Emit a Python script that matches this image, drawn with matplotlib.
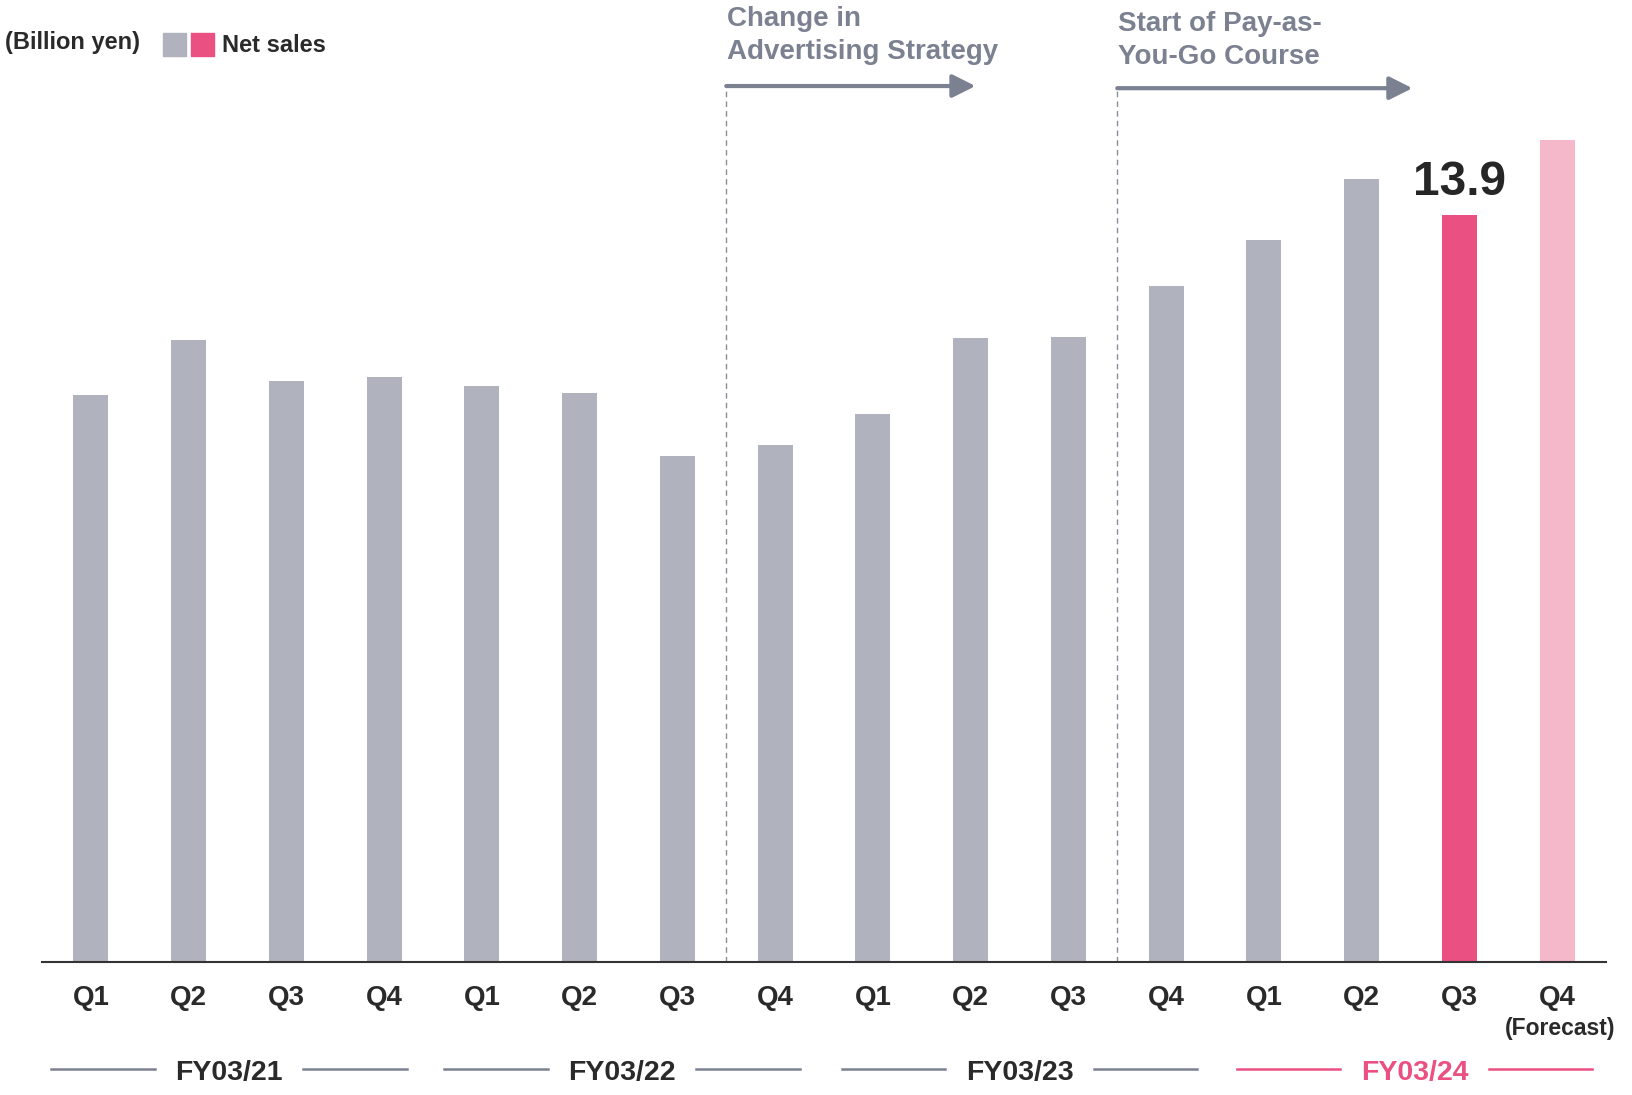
import matplotlib
matplotlib.use("Agg")
import matplotlib.pyplot as plt
from matplotlib.patches import Rectangle, FancyArrowPatch

plt.rcParams['font.family'] = ['Liberation Sans', 'DejaVu Sans']

quarters = ["Q1", "Q2", "Q3", "Q4"] * 4
net_sales = [10.55, 11.57, 10.82, 10.88, 10.72, 10.59, 9.42, 9.62,
             10.20, 11.61, 11.63, 12.58, 13.44, 14.57, 13.9, 15.30]
fiscal_years = ["FY03/21", "FY03/22", "FY03/23", "FY03/24"]
highlight_value = "13.9"
annotations = ["Change in\nAdvertising Strategy", "Start of Pay-as-\nYou-Go Course"]

GRAY = "#b0b2be"
PINK = "#ea5081"
LIGHT_PINK = "#f5b8cb"
ANN = "#7b8191"
DARK = "#2a2a2a"

colors = [GRAY] * 14 + [PINK, LIGHT_PINK]

W, H = 1632, 1095
fig = plt.figure(figsize=(W / 100, H / 100), dpi=100)
base_px = 962
ax = fig.add_axes([42 / W, (H - base_px) / H, (1606 - 42) / W, base_px / H])
x = list(range(len(net_sales)))
ax.bar(x, net_sales, width=0.36, color=colors, zorder=2)
ax.set_xlim(-0.5, 15.5)
ax.set_ylim(0, base_px / 53.74)
for s in ["top", "right", "left"]:
    ax.spines[s].set_visible(False)
ax.spines["bottom"].set_color("#333333")
ax.spines["bottom"].set_linewidth(1.5)
ax.set_xticks([])
ax.set_yticks([])

xt = ax.get_xaxis_transform()
px = 1 / base_px
for i, q in enumerate(quarters):
    ax.text(i, -36 * px, q, transform=xt, ha="center", va="center",
            fontsize=20, fontweight="bold", color=DARK)
ax.text(15.03, -66 * px, "(Forecast)", transform=xt, ha="center", va="center",
        fontsize=16.5, fontweight="bold", color=DARK)

fy_shift = [-0.085, -0.065, 0.0, 0.04]
for g, fy in enumerate(fiscal_years):
    c = g * 4 + 1.5 + fy_shift[g]
    col = PINK if g == 3 else ANN
    tcol = PINK if g == 3 else DARK
    ax.text(c, -111 * px, fy, transform=xt, ha="center", va="center",
            fontsize=20.5, fontweight="bold", color=tcol, clip_on=False)
    for sgn in (-1, 1):
        ax.plot([c + sgn * 0.76, c + sgn * 1.82], [-107 * px] * 2, transform=xt,
                color=col, lw=1.8, clip_on=False)

# 13.9 label
ax.text(14, net_sales[14] + 0.18, highlight_value, ha="center", va="bottom",
        fontsize=34.5, fontweight="bold", color="#262626")

# event markers
events = [(6.5, 9.05, 16.30, 6), (10.5, 13.52, 16.26, 11)]
for (x0, x1, ya, top_px), txt in zip(events, annotations):
    ax.plot([x0, x0], [0, ya], ls=(0, (4, 3)), lw=1.0, color="#8a8e9a", zorder=1)
    arr = FancyArrowPatch((x0, ya), (x1, ya), arrowstyle="-|>,head_length=0.7,head_width=0.35",
                          mutation_scale=20, lw=3, color=ANN, clip_on=False,
                          shrinkA=0, shrinkB=0)
    ax.add_patch(arr)
    ax.text(x0 + 0.01, 1 - top_px * px, txt, transform=xt,
            ha="left", va="top", fontsize=20, fontweight="bold", color=ANN,
            linespacing=1.33, clip_on=False)

# legend
fig.text(5 / W, 1 - 43 / H, "(Billion yen)", ha="left", va="center",
         fontsize=17, fontweight="bold", color=DARK)
fig.patches.append(Rectangle((163 / W, 1 - 56 / H), 23 / W, 23 / H,
                             transform=fig.transFigure, color=GRAY))
fig.patches.append(Rectangle((191 / W, 1 - 56 / H), 23 / W, 23 / H,
                             transform=fig.transFigure, color=PINK))
fig.text(222 / W, 1 - 46 / H, "Net sales", ha="left", va="center",
         fontsize=17, fontweight="bold", color=DARK)

fig.savefig("out.png", dpi=100)
